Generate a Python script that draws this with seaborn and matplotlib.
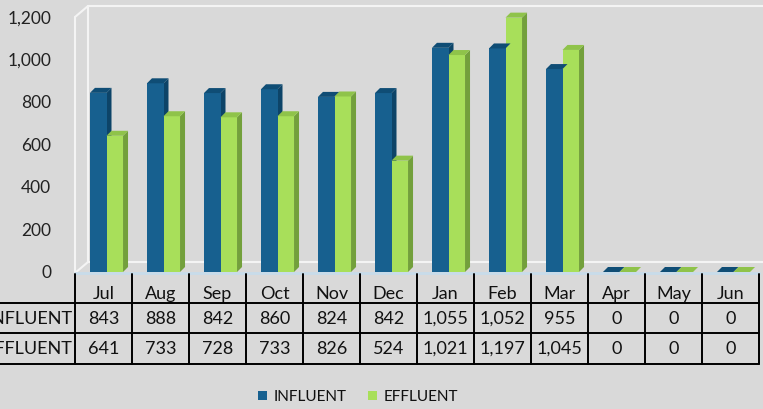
import matplotlib
matplotlib.use("Agg")
import matplotlib.pyplot as plt
from matplotlib.patches import Polygon, Rectangle
from matplotlib.lines import Line2D
import seaborn as sns
import pandas as pd

months = ["Jul", "Aug", "Sep", "Oct", "Nov", "Dec", "Jan", "Feb", "Mar", "Apr", "May", "Jun"]
influent = [843, 888, 842, 860, 824, 842, 1055, 1052, 955, 0, 0, 0]
effluent = [641, 733, 728, 733, 826, 524, 1021, 1197, 1045, 0, 0, 0]
series = ["INFLUENT", "EFFLUENT"]
yticks = [0, 200, 400, 600, 800, 1000, 1200]

front = {"INFLUENT": "#17608f", "EFFLUENT": "#a8df5a"}
side = {"INFLUENT": "#0d4468", "EFFLUENT": "#73a03c"}
top = {"INFLUENT": "#0f4d75", "EFFLUENT": "#8fc34a"}
bg = "#d9d9d9"

df = pd.DataFrame({
    "month": months * 2,
    "value": influent + effluent,
    "series": [series[0]] * len(months) + [series[1]] * len(months),
})

sns.set_style("white")
plt.rcParams["font.family"] = ["Lato", "DejaVu Sans"]

W, H = 763, 409
fig = plt.figure(figsize=(W / 100, H / 100), dpi=100, facecolor=bg)


def fx(px):
    return px / W


def fy(py):
    return 1 - py / H


ax = fig.add_axes([fx(75), fy(272), fx(759) - fx(75), fy(17) - fy(272)])
ax.set_facecolor("none")
sns.barplot(data=df, x="month", y="value", hue="series", palette=front,
            width=0.58, order=months, hue_order=series, legend=False,
            saturation=1, ax=ax, linewidth=0)
ax.set_xlim(-0.5, 11.5)
ax.set_ylim(0, 1200)
for s in ax.spines.values():
    s.set_visible(False)
ax.set_xlabel("")
ax.set_ylabel("")
ax.set_xticks([])
ax.set_yticks(yticks)
ax.set_yticklabels([f"{t:,}" for t in yticks], fontsize=12.5, color="#222222")
ax.tick_params(axis="y", length=0, pad=17)

# 3D depth for bars (front faces nudged right a little, like the Excel view)
dx = 5 * 12 / 684
dy = 5 * 1200 / 255
shift = 3 * 12 / 684
for i, container in enumerate(ax.containers):
    name = series[i]
    for p in container.patches:
        p.set_x(p.get_x() + shift)
        x0, w, h = p.get_x(), p.get_width(), p.get_height()
        ax.add_patch(Polygon([(x0 + w, 0), (x0 + w + dx, dy), (x0 + w + dx, h + dy), (x0 + w, h)],
                             closed=True, facecolor=side[name], edgecolor="none", zorder=1,
                             clip_on=False))
        ax.add_patch(Polygon([(x0, h), (x0 + dx, h + dy), (x0 + w + dx, h + dy), (x0 + w, h)],
                             closed=True, facecolor=top[name], edgecolor="none", zorder=3,
                             clip_on=False))
        p.set_zorder(2)
        p.set_clip_on(False)

# back wall outline
wall = "#f4f4f4"
for xs, ys in [((88, 763), (6, 6)), ((75, 88), (17, 6)), ((88, 88), (6, 262)),
               ((75, 75), (17, 273)), ((75, 88), (273, 262)), ((88, 763), (262, 262))]:
    fig.add_artist(Line2D([fx(v) for v in xs], [fy(v) for v in ys], color=wall, lw=1.5, zorder=0))
fig.add_artist(Line2D([fx(75), fx(759)], [fy(273), fy(273)], color="#c8dcea", lw=2))

# data table
bounds = [75 + (759 - 75) * k / 12 for k in range(13)]
for b in bounds:
    fig.add_artist(Line2D([fx(b), fx(b)], [fy(274), fy(364)], color="black", lw=1.4))
for yy in [303, 333, 364]:
    fig.add_artist(Line2D([0, fx(759)], [fy(yy), fy(yy)], color="black", lw=1.4))
fs = 13
for k, m in enumerate(months):
    cx = fx((bounds[k] + bounds[k + 1]) / 2)
    fig.text(cx, fy(294), m, ha="center", va="center", fontsize=fs, color="#111111")
    fig.text(cx, fy(319), f"{influent[k]:,}", ha="center", va="center", fontsize=fs, color="#111111")
    fig.text(cx, fy(349), f"{effluent[k]:,}", ha="center", va="center", fontsize=fs, color="#111111")
fig.text(fx(72), fy(319), "INFLUENT", ha="right", va="center", fontsize=fs, color="#111111")
fig.text(fx(72), fy(349), "EFFLUENT", ha="right", va="center", fontsize=fs, color="#111111")

# legend
handles = [Rectangle((0, 0), 1, 1, facecolor=front[s], edgecolor="none") for s in series]
fig.legend(handles, series, loc="center", bbox_to_anchor=(fx(358), fy(397)), ncol=2,
           frameon=False, fontsize=11, handlelength=0.6, handleheight=0.6,
           handletextpad=0.4, columnspacing=1.4, labelcolor="#111111")

fig.savefig("out.png", dpi=100, facecolor=bg)
